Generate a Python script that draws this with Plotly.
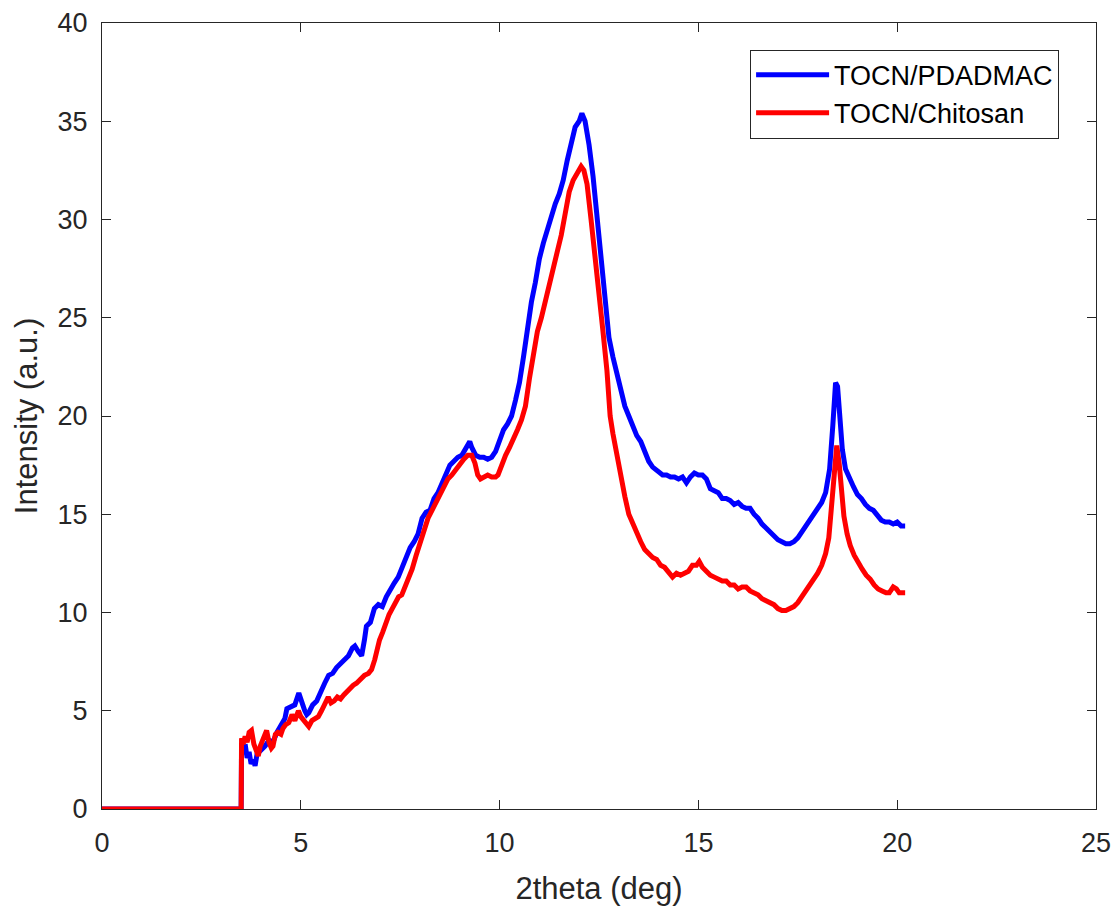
import plotly.graph_objects as go

# ---- data ----
blue_x = [0, 3.50, 3.51, 3.56, 3.60, 3.65, 3.70, 3.75, 3.80, 3.85, 3.90, 3.95, 4.00, 4.10, 4.20, 4.30,
          4.40, 4.50, 4.60, 4.65, 4.75, 4.85, 4.95, 5.00, 5.05, 5.10, 5.15, 5.20, 5.30, 5.40, 5.50,
          5.60, 5.70, 5.80, 5.90, 6.00, 6.10, 6.20, 6.30, 6.36, 6.45, 6.53, 6.60, 6.65, 6.75, 6.85,
          6.95, 7.05, 7.15, 7.25, 7.35, 7.45, 7.55, 7.65, 7.75, 7.85, 7.95, 8.05, 8.15, 8.25, 8.35,
          8.45, 8.55, 8.65, 8.75, 8.85, 8.95, 9.05, 9.15, 9.25, 9.30, 9.40, 9.50, 9.60, 9.70, 9.80,
          9.90, 10.00, 10.10, 10.20, 10.30, 10.40, 10.50, 10.60, 10.70, 10.80, 10.90, 11.00, 11.10,
          11.20, 11.30, 11.40, 11.50, 11.60, 11.70, 11.80, 11.90, 12.00, 12.07, 12.15, 12.25, 12.35,
          12.45, 12.55, 12.65, 12.75, 12.85, 12.95, 13.05, 13.15, 13.25, 13.35, 13.45, 13.55, 13.65,
          13.75, 13.85, 14.00, 14.10, 14.20, 14.30, 14.40, 14.50, 14.60, 14.70, 14.80, 14.90, 15.00,
          15.10, 15.20, 15.30, 15.40, 15.50, 15.60, 15.70, 15.80, 15.90, 16.00, 16.10, 16.20, 16.30,
          16.40, 16.50, 16.60, 16.70, 16.80, 16.90, 17.00, 17.10, 17.20, 17.30, 17.40, 17.50, 17.60,
          17.70, 17.80, 17.90, 18.00, 18.10, 18.20, 18.30, 18.38, 18.45, 18.50, 18.55, 18.62, 18.70,
          18.80, 18.90, 19.00, 19.10, 19.20, 19.30, 19.40, 19.50, 19.60, 19.70, 19.80, 19.90, 20.00,
          20.10, 20.20]
blue_y = [0, 0, 3.2, 2.8, 3.3, 2.6, 2.9, 2.3, 2.5, 2.2, 2.8, 2.9, 3.0, 3.2, 3.5, 3.4,
          3.9, 4.3, 4.6, 5.1, 5.2, 5.3, 5.9, 5.5, 5.3, 5.0, 4.8, 4.9, 5.3, 5.5, 6.0,
          6.4, 6.8, 6.9, 7.2, 7.4, 7.6, 7.8, 8.2, 8.3, 8.0, 7.8, 8.6, 9.3, 9.5, 10.2,
          10.4, 10.3, 10.8, 11.2, 11.5, 11.8, 12.3, 12.8, 13.3, 13.6, 14.0, 14.8, 15.1, 15.2, 15.8,
          16.1, 16.6, 17.1, 17.5, 17.7, 17.9, 18.0, 18.3, 18.7, 18.4, 18.0, 17.9, 17.9, 17.8, 17.9,
          18.2, 18.8, 19.3, 19.6, 20.0, 20.8, 21.7, 23.0, 24.5, 25.8, 26.8, 28.0, 28.8,
          29.5, 30.2, 30.8, 31.3, 32.0, 33.0, 34.0, 34.7, 35.0, 35.4, 35.0, 33.8, 32.2,
          30.0, 27.8, 25.7, 24.0, 23.0, 22.2, 21.5, 20.5, 20.0, 19.5, 19.0, 18.7, 18.2,
          17.7, 17.4, 17.2, 17.0, 17.0, 16.9, 16.9, 16.8, 16.9, 16.6, 16.9, 17.1, 17.0,
          17.0, 16.8, 16.3, 16.2, 16.1, 15.8, 15.8, 15.7, 15.5, 15.6, 15.4, 15.3, 15.3,
          15.0, 14.8, 14.5, 14.3, 14.1, 13.9, 13.7, 13.6, 13.5, 13.5, 13.6, 13.8, 14.1,
          14.4, 14.6, 14.9, 15.3, 15.6, 16.1, 17.3, 19.5, 21.7, 21.5, 20.0, 18.3, 17.3,
          16.8, 16.4, 16.0, 15.8, 15.5, 15.3, 15.2, 14.9, 14.7, 14.6, 14.6, 14.5, 14.6,
          14.4, 14.4]

red_x = [0, 3.50, 3.51, 3.55, 3.60, 3.65, 3.70, 3.76, 3.82, 3.88, 3.93, 3.98, 4.05, 4.10, 4.14,
         4.20, 4.26, 4.30, 4.36, 4.42, 4.50, 4.55, 4.62, 4.70, 4.78, 4.85, 4.94, 5.00, 5.08, 5.15,
         5.20, 5.28, 5.36, 5.44, 5.52, 5.60, 5.69, 5.76, 5.84, 5.92, 6.00, 6.08, 6.16, 6.24, 6.32,
         6.40, 6.50, 6.60, 6.70, 6.78, 6.86, 6.92, 6.98, 7.06, 7.14, 7.22, 7.30, 7.38, 7.46, 7.54,
         7.62, 7.70, 7.80, 7.90, 8.00, 8.10, 8.20, 8.30, 8.40, 8.50, 8.60, 8.70, 8.80, 8.90, 9.00,
         9.10, 9.20, 9.30, 9.38, 9.45, 9.52, 9.60, 9.70, 9.80, 9.90, 9.96, 10.05, 10.15, 10.25,
         10.35, 10.45, 10.55, 10.65, 10.75, 10.85, 10.95, 11.05, 11.15, 11.25, 11.35, 11.45, 11.55,
         11.65, 11.75, 11.85, 11.95, 12.05, 12.12, 12.20, 12.30, 12.40, 12.50, 12.60, 12.70, 12.78,
         12.85, 12.95, 13.05, 13.15, 13.25, 13.35, 13.45, 13.55, 13.65, 13.75, 13.85, 13.95, 14.05,
         14.15, 14.25, 14.35, 14.45, 14.55, 14.65, 14.75, 14.85, 14.95, 15.02, 15.10, 15.20, 15.30,
         15.40, 15.50, 15.60, 15.70, 15.80, 15.90, 16.00, 16.10, 16.20, 16.30, 16.40, 16.50, 16.60,
         16.70, 16.80, 16.90, 17.00, 17.10, 17.20, 17.30, 17.40, 17.50, 17.60, 17.70, 17.80, 17.90,
         18.00, 18.10, 18.20, 18.28, 18.35, 18.42, 18.48, 18.54, 18.60, 18.66, 18.74, 18.82, 18.92,
         19.02, 19.12, 19.22, 19.32, 19.42, 19.52, 19.62, 19.72, 19.80, 19.90, 19.98, 20.05, 20.15,
         20.20]
red_y = [0, 0, 3.6, 3.3, 3.7, 3.4, 3.9, 4.0, 3.3, 3.0, 2.7, 3.2, 3.6, 3.9, 4.0,
         3.4, 3.1, 3.2, 3.8, 3.9, 3.8, 4.1, 4.3, 4.4, 4.8, 4.5, 5.0, 4.7, 4.5, 4.3,
         4.2, 4.5, 4.6, 4.7, 5.0, 5.4, 5.7, 5.4, 5.5, 5.7, 5.6, 5.8, 6.0, 6.1, 6.3,
         6.4, 6.6, 6.8, 6.9, 7.1, 7.6, 8.2, 8.6, 9.0, 9.5, 9.9, 10.2, 10.5, 10.8, 10.9,
         11.3, 11.8, 12.2, 12.9, 13.5, 14.2, 14.8, 15.2, 15.6, 16.0, 16.4, 16.8, 17.0, 17.3, 17.5,
         17.8, 18.0, 18.0, 17.6, 17.0, 16.8, 16.9, 17.0, 16.9, 16.9, 17.0, 17.5, 18.0, 18.4,
         18.8, 19.3, 19.8, 20.5, 21.9, 23.2, 24.3, 25.0, 25.8, 26.6, 27.5, 28.3, 29.2,
         30.3, 31.4, 32.0, 32.4, 32.7, 32.5, 31.8, 30.0, 27.9, 26.0, 24.3, 22.3, 20.0,
         19.1, 18.0, 16.8, 15.9, 15.0, 14.5, 14.1, 13.6, 13.2, 13.0, 12.8, 12.7, 12.4,
         12.3, 12.0, 11.8, 12.0, 11.9, 12.0, 12.1, 12.4, 12.4, 12.6, 12.3, 12.1, 11.9,
         11.8, 11.7, 11.6, 11.6, 11.4, 11.4, 11.2, 11.3, 11.3, 11.1, 11.0, 10.9, 10.7,
         10.6, 10.5, 10.4, 10.2, 10.1, 10.1, 10.2, 10.3, 10.5, 10.8, 11.0, 11.3, 11.6,
         12.0, 12.4, 13.0, 13.8, 15.5, 17.5, 18.5, 17.6, 16.2, 14.9, 14.0, 13.4, 12.9,
         12.5, 12.2, 11.9, 11.7, 11.4, 11.2, 11.1, 11.0, 11.0, 11.3, 11.2, 11.0, 11.0,
         11.0]

series_names = ["TOCN/PDADMAC", "TOCN/Chitosan"]
x_ticks = [0, 5, 10, 15, 20, 25]
y_ticks = [0, 5, 10, 15, 20, 25, 30, 35, 40]

FONT = "Liberation Sans, Arial, Helvetica, sans-serif"
AX = "#262626"

fig = go.Figure()
fig.add_trace(go.Scatter(x=blue_x, y=blue_y, mode="lines", name=series_names[0],
                         line=dict(color="#0000ff", width=5)))
fig.add_trace(go.Scatter(x=red_x, y=red_y, mode="lines", name=series_names[1],
                         line=dict(color="#ff0000", width=5)))

axis_common = dict(showgrid=False, zeroline=False, showline=True, linecolor=AX, linewidth=1,
                   mirror="ticks", ticks="inside", ticklen=9, tickcolor=AX, tickwidth=1,
                   tickfont=dict(family=FONT, size=27, color=AX))

fig.update_layout(
    width=1120, height=909,
    margin=dict(l=94, r=32, t=15, b=108, autoexpand=False),
    paper_bgcolor="white", plot_bgcolor="white",
    font=dict(family=FONT, color=AX),
    xaxis=dict(range=[0, 25], tickvals=x_ticks, ticktext=[str(v) for v in x_ticks],
               title=dict(text="2theta (deg)", font=dict(family=FONT, size=31, color=AX), standoff=19),
               ticklabelstandoff=10, **axis_common),
    yaxis=dict(range=[0, 40], tickvals=y_ticks, ticktext=[str(v) for v in y_ticks],
               title=dict(text="Intensity (a.u.)", font=dict(family=FONT, size=31, color=AX), standoff=10),
               ticklabelstandoff=8, **axis_common),
    legend=dict(x=0.652, y=0.966, xanchor="left", yanchor="top",
                bgcolor="white", bordercolor=AX, borderwidth=1,
                font=dict(family=FONT, size=27, color="black"),
                itemwidth=73, tracegroupgap=0),
    showlegend=True,
)

fig.write_html("out.html")
